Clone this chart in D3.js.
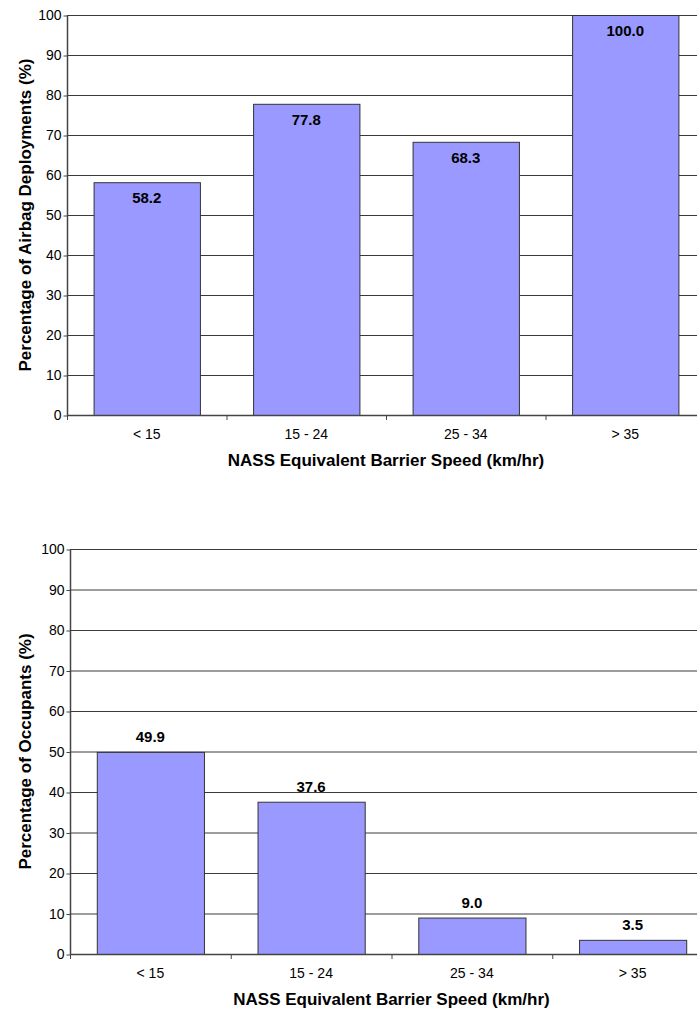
<!DOCTYPE html>
<html>
<head>
<meta charset="utf-8">
<script src="https://cdn.jsdelivr.net/npm/d3@7"></script>
<style>
  html, body { margin: 0; padding: 0; background: #fff; }
  svg { display: block; }
  text { font-family: Arial, "Liberation Sans", sans-serif; fill: #000; }
</style>
</head>
<body>
<svg id="chart" width="697" height="1009"></svg>
<script>
// Speed bands shared by both panels
const categories = ["< 15", "15 - 24", "25 - 34", "> 35"];
// Share of airbag deployments per speed band (%)
const deploymentValues = [58.2, 77.8, 68.3, 100.0];
// Share of occupants per speed band (%)
const occupantValues = [49.9, 37.6, 9.0, 3.5];
const yTicks = [0, 10, 20, 30, 40, 50, 60, 70, 80, 90, 100];
const xTitle = "NASS Equivalent Barrier Speed (km/hr)";

const svg = d3.select("#chart");

function drawPanel(opts) {
  const g = svg.append("g");
  const x = d3.scaleBand().domain(categories).range([opts.left, opts.right])
    .paddingInner(1 / 3).paddingOuter(1 / 6);
  const y = d3.scaleLinear().domain([0, 100]).range([opts.bottom, opts.top]);

  // horizontal gridlines
  g.selectAll("line.grid").data(yTicks.filter(t => t > 0)).join("line")
    .attr("x1", opts.left).attr("x2", opts.right)
    .attr("y1", d => y(d) + 0.5).attr("y2", d => y(d) + 0.5)
    .attr("stroke", "#3a3a3a").attr("stroke-width", 1);

  // bars
  g.selectAll("rect.bar").data(opts.values).join("rect")
    .attr("x", (d, i) => x(categories[i]) + 0.5)
    .attr("y", d => y(d) + 0.5)
    .attr("width", x.bandwidth())
    .attr("height", d => y(0) - y(d))
    .attr("fill", "#9999FF")
    .attr("stroke", "#333")
    .attr("stroke-width", 1);

  // value labels
  g.selectAll("text.val").data(opts.values).join("text")
    .attr("x", (d, i) => x(categories[i]) + x.bandwidth() / 2)
    .attr("y", d => y(d) + opts.labelOffset)
    .attr("text-anchor", "middle")
    .attr("font-size", 15).attr("font-weight", "bold")
    .text(d => d.toFixed(1));

  // y axis
  const yAxis = d3.axisLeft(y).tickValues(yTicks).tickSize(4).tickPadding(2);
  const ya = g.append("g").attr("transform", `translate(${opts.left + 0.5},0.5)`).call(yAxis);
  ya.select(".domain").attr("stroke", "#444").attr("stroke-width", 1.5).attr("d", `M0,${opts.top}V${opts.bottom}`);
  ya.selectAll(".tick line").attr("stroke", "#444");
  ya.selectAll(".tick text").attr("font-size", 14).attr("font-family", "Arial, 'Liberation Sans', sans-serif").attr("fill", "#000");

  // x axis line and band-boundary ticks
  g.append("line")
    .attr("x1", opts.left).attr("x2", opts.right)
    .attr("y1", y(0) + 0.5).attr("y2", y(0) + 0.5)
    .attr("stroke", "#444").attr("stroke-width", 1.5);
  const step = x.step();
  const bounds = d3.range(0, categories.length + 1).map(i => opts.left + i * step);
  g.selectAll("line.xtick").data(bounds).join("line")
    .attr("x1", d => d + 0.5).attr("x2", d => d + 0.5)
    .attr("y1", y(0)).attr("y2", y(0) + 5)
    .attr("stroke", "#444");

  // category labels
  g.selectAll("text.cat").data(categories).join("text")
    .attr("x", d => x(d) + x.bandwidth() / 2)
    .attr("y", y(0) + 24)
    .attr("text-anchor", "middle")
    .attr("font-size", 14)
    .text(d => d);

  // axis titles
  g.append("text")
    .attr("x", (opts.left + opts.right) / 2)
    .attr("y", y(0) + 51)
    .attr("text-anchor", "middle")
    .attr("font-size", 17).attr("font-weight", "bold")
    .text(xTitle);

  g.append("text")
    .attr("transform", `translate(${opts.yTitleX},${(opts.top + opts.bottom) / 2}) rotate(-90)`)
    .attr("text-anchor", "middle")
    .attr("font-size", 17).attr("font-weight", "bold")
    .text(opts.yTitle);
}

drawPanel({
  values: deploymentValues,
  left: 67, right: 705, top: 15, bottom: 415,
  labelOffset: 21,
  yTitle: "Percentage of Airbag Deployments (%)",
  yTitleX: 31
});

drawPanel({
  values: occupantValues,
  left: 70, right: 713, top: 549, bottom: 954,
  labelOffset: -10,
  yTitle: "Percentage of Occupants (%)",
  yTitleX: 31
});
</script>
</body>
</html>
